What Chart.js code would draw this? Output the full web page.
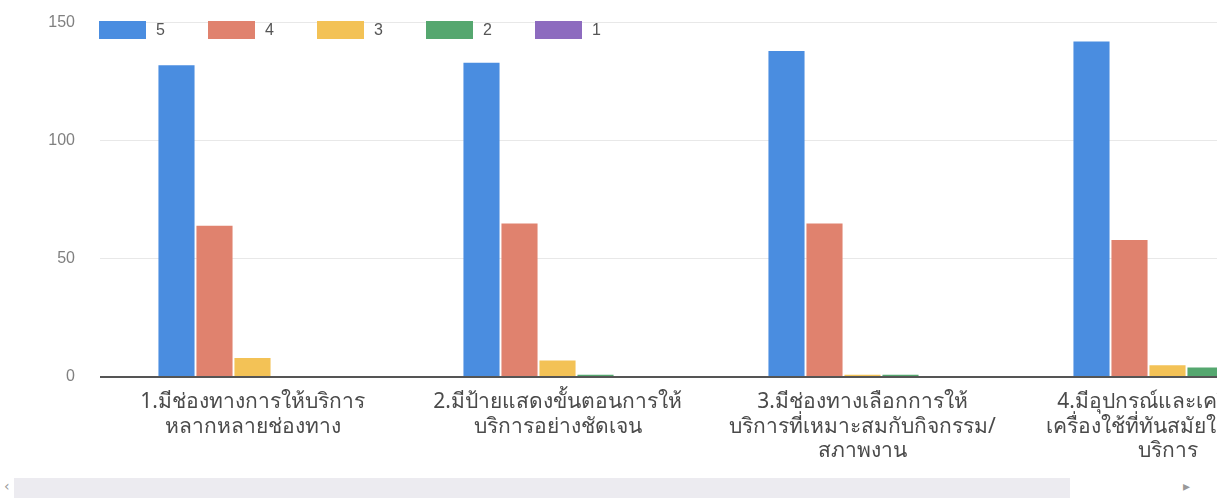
<!DOCTYPE html>
<html>
<head>
<meta charset="utf-8">
<script src="https://cdn.jsdelivr.net/npm/chart.js@4"></script>
<style>
  html, body { margin: 0; padding: 0; width: 1217px; height: 500px; overflow: hidden; background: #fff; }
  #wrap { position: relative; width: 1320px; height: 482px; margin-top: -12px; }
  #legend { position: absolute; left: 99px; top: 33px; display: flex; font: 16px "Liberation Sans", Arial, sans-serif; color: #555; }
  #legend .item { display: flex; align-items: center; margin-right: 12px; }
  #legend .box { width: 47px; height: 18px; margin-right: 10px; }
  #legend .txt { width: 40px; }
  #scroll { position: absolute; left: 14px; top: 478px; width: 1056px; height: 20px; background: #ecebf0; }
  .arrow { position: absolute; top: 478px; font: 14px "DejaVu Sans", sans-serif; color: #999; }
</style>
</head>
<body>
<div id="wrap">
  <canvas id="chart" width="1320" height="482"></canvas>
  <div id="legend"></div>
</div>
<div id="scroll"></div>
<div class="arrow" style="left:4px">‹</div>
<div class="arrow" style="left:1183px">▸</div>
<script>
// คะแนนความพึงพอใจ (5 = มากที่สุด)
var categories = [
  ["1.มีช่องทางการให้บริการ", "หลากหลายช่องทาง"],
  ["2.มีป้ายแสดงขั้นตอนการให้", "บริการอย่างชัดเจน"],
  ["3.มีช่องทางเลือกการให้", "บริการที่เหมาะสมกับกิจกรรม/", "สภาพงาน"],
  ["4.มีอุปกรณ์และเครื่องมือ", "เครื่องใช้ที่ทันสมัยในการให้", "บริการ"],
];
var seriesNames = ["5", "4", "3", "2", "1"];
var score5 = [132, 133, 138, 142];
var score4 = [64, 65, 65, 58];
var score3 = [8, 7, 1, 5];
var score2 = [0, 1, 1, 4];
var score1 = [0, 0, 0, 0];
var yTicks = [0, 50, 100, 150];

var colors = ["#4a8de0", "#e0826e", "#f3c256", "#55a76f", "#8d6bbf"];
var values = [score5, score4, score3, score2, score1];

var datasets = seriesNames.map(function (name, i) {
  return {
    label: name,
    data: values[i],
    backgroundColor: colors[i],
    categoryPercentage: 0.623,
    barPercentage: 0.95,
  };
});

var ctx = document.getElementById("chart").getContext("2d");
var myChart = new Chart(ctx, {
  type: "bar",
  data: { labels: categories, datasets: datasets },
  options: {
    responsive: false,
    animation: false,
    layout: { padding: { top: 10, left: 0, right: 0, bottom: 0 } },
    plugins: { legend: { display: false }, tooltip: { enabled: false } },
    scales: {
      x: {
        grid: { display: false },
        border: { display: false },
        ticks: {
          color: "#4a4a4a",
          padding: 5,
          autoSkip: false,
          maxRotation: 0,
          font: { size: 21, family: "'Noto Sans', 'DejaVu Sans', sans-serif", lineHeight: 1.17 },
        },
        afterFit: function (s) { s.height = 93; },
      },
      y: {
        min: 0,
        max: 150,
        afterBuildTicks: function (s) { s.ticks = yTicks.map(function (v) { return { value: v }; }); },
        border: { display: false },
        grid: {
          drawTicks: false,
          color: function (c) { return c.tick && c.tick.value === 0 ? "#555" : "#e8e8e8"; },
          lineWidth: function (c) { return c.tick && c.tick.value === 0 ? 2 : 1; },
        },
        ticks: {
          color: "#808080",
          padding: 25,
          font: { size: 16, family: "'Liberation Sans', Arial, sans-serif" },
        },
        afterFit: function (s) { s.width = 100; },
      },
    },
  },
});

// legend inside the plot, like the original
var legend = document.getElementById("legend");
datasets.forEach(function (d) {
  var item = document.createElement("div");
  item.className = "item";
  item.innerHTML = '<span class="box" style="background:' + d.backgroundColor + '"></span><span class="txt">' + d.label + "</span>";
  legend.appendChild(item);
});
</script>
</body>
</html>
